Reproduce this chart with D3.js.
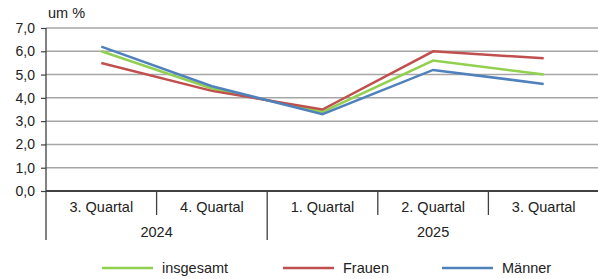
<!DOCTYPE html>
<html>
<head>
<meta charset="utf-8">
<script src="https://cdn.jsdelivr.net/npm/d3@7"></script>
<style>
  body { margin: 0; background: #fff; }
  svg { font-family: "Liberation Sans", Arial, sans-serif; }
</style>
</head>
<body>
<svg id="chart" width="598" height="279"></svg>
<script>
// data
const quarters = ['3. Quartal', '4. Quartal', '1. Quartal', '2. Quartal', '3. Quartal'];
const years = [{ label: '2024', from: 0, to: 2 }, { label: '2025', from: 2, to: 5 }];
const insgesamt = [6.0, 4.4, 3.4, 5.6, 5.0];
const frauen = [5.5, 4.3, 3.5, 6.0, 5.7];
const maenner = [6.2, 4.5, 3.3, 5.2, 4.6];
const yTicks = [0, 1, 2, 3, 4, 5, 6, 7];

const series = [
  { name: 'insgesamt', values: insgesamt, color: '#92d050' },
  { name: 'Frauen', values: frauen, color: '#c0504d' },
  { name: 'Männer', values: maenner, color: '#4f81bd' }
];

const margin = { top: 28, right: 0, bottom: 88, left: 46 };
const width = 598, height = 279;
const w = 553;
const h = height - margin.top - margin.bottom;
const fs = 14.5;

const svg = d3.select('#chart');
const g = svg.append('g').attr('transform', `translate(${margin.left},${margin.top})`);

const x = d3.scaleBand().domain(d3.range(quarters.length)).range([0, w]);
const y = d3.scaleLinear().domain([0, 7]).range([h, 0]);
const fmt = d => d.toFixed(1).replace('.', ',');

// gridlines
g.selectAll('.grid').data(yTicks.filter(d => d > 0)).enter().append('line')
  .attr('x1', 0).attr('x2', w)
  .attr('y1', d => y(d)).attr('y2', d => y(d))
  .attr('stroke', '#a6a6a6').attr('stroke-width', 1.5);

// y axis
const yAxis = d3.axisLeft(y).tickValues(yTicks).tickFormat(fmt).tickSize(5).tickPadding(6);
const ya = g.append('g').call(yAxis);
ya.select('.domain').remove();
ya.selectAll('.tick line').attr('stroke', '#404040').attr('stroke-width', 1.2);
ya.selectAll('.tick text').attr('font-size', 14).attr('fill', '#222').attr('font-family', 'Liberation Sans, Arial, sans-serif');

g.append('line').attr('x1', 0).attr('x2', 0).attr('y1', 0).attr('y2', h + 49)
  .attr('stroke', '#404040').attr('stroke-width', 1.3);

// x axis baseline
g.append('line').attr('x1', 0).attr('x2', w).attr('y1', y(0)).attr('y2', y(0))
  .attr('stroke', '#404040').attr('stroke-width', 2);

// category separators
d3.range(1, quarters.length).forEach(i => {
  const isYear = years.some(yr => yr.from === i);
  g.append('line')
    .attr('x1', x(i)).attr('x2', x(i))
    .attr('y1', y(0)).attr('y2', y(0) + (isYear ? 49 : 24))
    .attr('stroke', '#404040').attr('stroke-width', 1.3);
});

g.selectAll('.qlabel').data(quarters).enter().append('text')
  .attr('x', (d, i) => x(i) + x.bandwidth() / 2)
  .attr('y', y(0) + 21)
  .attr('text-anchor', 'middle').attr('font-size', fs).attr('fill', '#222')
  .text(d => d);

g.selectAll('.ylabel').data(years).enter().append('text')
  .attr('x', d => (x(d.from) + (d.to < quarters.length ? x(d.to) : w)) / 2)
  .attr('y', y(0) + 46)
  .attr('text-anchor', 'middle').attr('font-size', fs).attr('fill', '#222')
  .text(d => d.label);

// unit label
g.append('text').attr('x', 2).attr('y', -10).attr('font-size', fs).attr('fill', '#222').text('um %');

// lines
const line = d3.line()
  .x((d, i) => x(i) + x.bandwidth() / 2)
  .y(d => y(d));

series.forEach(s => {
  g.append('path').datum(s.values)
    .attr('d', line)
    .attr('fill', 'none')
    .attr('stroke', s.color)
    .attr('stroke-width', 2.5);
});

// legend
const legendX = [102, 283, 442];
const legend = svg.append('g').attr('transform', 'translate(0,268)');
series.forEach((s, i) => {
  legend.append('line').attr('x1', legendX[i]).attr('x2', legendX[i] + 51)
    .attr('y1', 0).attr('y2', 0).attr('stroke', s.color).attr('stroke-width', 2.5);
  legend.append('text').attr('x', legendX[i] + 60).attr('y', 5)
    .attr('font-size', fs).attr('fill', '#222').text(s.name);
});
</script>
</body>
</html>
